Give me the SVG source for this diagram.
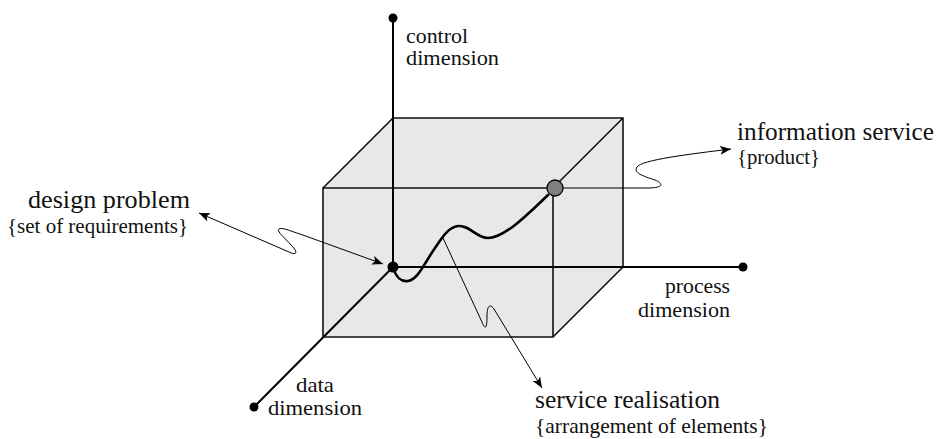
<svg xmlns="http://www.w3.org/2000/svg" width="939" height="439" viewBox="0 0 939 439">
<style>
.edge{fill:none;stroke:#111;stroke-width:1.6;stroke-linecap:round}
.axis{fill:none;stroke:#000;stroke-width:2}
.conn{fill:none;stroke:#000;stroke-width:1}
.dot{fill:#000}
.lbl{fill:#111;font-family:"Liberation Serif",serif}
.big{font-size:25px}
.mid{font-size:21px}
</style>
<defs>
<marker id="arr" viewBox="0 0 10 8" refX="10" refY="4" markerUnits="userSpaceOnUse" markerWidth="11" markerHeight="9" orient="auto-start-reverse">
<path d="M0,0 L10,4 L0,8 L2.5,4 z" fill="#000"/>
</marker>
</defs>
<g id="cube">
<polygon points="323,188 393,118 623,118 623,267 553,337 323,337" fill="#e8e8e8" stroke="none"/>
<path class="edge" d="M323,188 L553,188 L553,337 L323,337 Z M323,188 L393,118 L623,118 L623,267 L553,337 M553,188 L623,118"/>
</g>
<g id="axes">
<path class="axis" d="M393,267 L393,18 M393,267 L743,267 M393,267 L254,407"/>
<circle class="dot" cx="393" cy="18" r="4.5"/>
<circle class="dot" cx="743" cy="267" r="4.5"/>
<circle class="dot" cx="254" cy="407" r="4.5"/>
</g>
<g id="realisation-curve">
<path d="M393,267 C396,278 402,282 408,281 C418,280 425,262 435,248 C443,236 449,227 458,226 C470,225 476,238 488,238 C505,238 530,212 548,195" fill="none" stroke="#000" stroke-width="2.6" stroke-linecap="round"/>
</g>
<g id="connectors">
<path class="conn" marker-start="url(#arr)" marker-end="url(#arr)" d="M199,213 L289,252 C297,256 298,252 292,246 C285,238 276,231 279,229 C282,227 290,231 300,234 L383,264"/>
<path class="conn" marker-end="url(#arr)" d="M563,188 L648,188 C662,188 665,184 655,180 C643,176 633,173 637,167 C641,160 690,154 731,149"/>
<path class="conn" marker-end="url(#arr)" d="M443,238 L482,322 C486,332 487,326 487,316 C487,306 490,303 494,309 L542,388"/>
</g>
<g id="origin">
<circle class="dot" cx="393" cy="267" r="5.5"/>
</g>
<g id="service-point">
<circle cx="555" cy="188" r="8" fill="#808080" stroke="#000" stroke-width="1.3"/>
</g>
<g class="lbl">
<g id="control-label">
<text class="mid" x="406" y="43" textLength="62" lengthAdjust="spacingAndGlyphs">control</text>
<text class="mid" x="406" y="65" textLength="93" lengthAdjust="spacingAndGlyphs">dimension</text>
</g>
<g id="process-label">
<text class="mid" x="665" y="293" textLength="65" lengthAdjust="spacingAndGlyphs">process</text>
<text class="mid" x="638" y="317" textLength="92" lengthAdjust="spacingAndGlyphs">dimension</text>
</g>
<g id="data-label">
<text class="mid" x="296" y="392" textLength="38" lengthAdjust="spacingAndGlyphs">data</text>
<text class="mid" x="268" y="415" textLength="94" lengthAdjust="spacingAndGlyphs">dimension</text>
</g>
<g id="design-problem">
<text class="big" x="28" y="208" textLength="162" lengthAdjust="spacingAndGlyphs">design problem</text>
<text class="mid" x="7" y="233" textLength="181" lengthAdjust="spacingAndGlyphs">{set of requirements}</text>
</g>
<g id="information-service">
<text class="big" x="737" y="140" textLength="197" lengthAdjust="spacingAndGlyphs">information service</text>
<text class="mid" x="737" y="164" textLength="83" lengthAdjust="spacingAndGlyphs">{product}</text>
</g>
<g id="service-realisation">
<text class="big" x="535" y="408" textLength="185" lengthAdjust="spacingAndGlyphs">service realisation</text>
<text class="mid" x="535" y="433" textLength="233" lengthAdjust="spacingAndGlyphs">{arrangement of elements}</text>
</g>
</g>
</svg>
